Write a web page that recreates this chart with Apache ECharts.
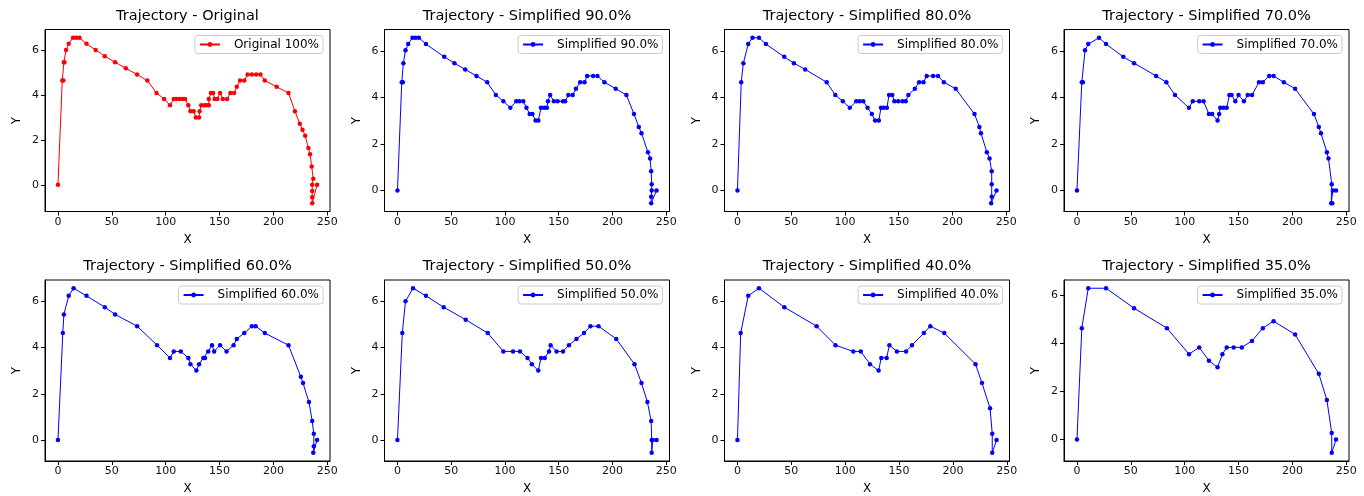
<!DOCTYPE html>
<html>
<head>
<meta charset="utf-8">
<script src="https://cdn.jsdelivr.net/npm/echarts@6/dist/echarts.min.js"></script>
<style>html,body{margin:0;padding:0;background:#fff;}#c{width:1364px;height:496px;}</style>
</head>
<body>
<div id="c"></div>
<script>
// ---- data ----
const titles = ['Trajectory - Original','Trajectory - Simplified 90.0%','Trajectory - Simplified 80.0%','Trajectory - Simplified 70.0%',
                'Trajectory - Simplified 60.0%','Trajectory - Simplified 50.0%','Trajectory - Simplified 40.0%','Trajectory - Simplified 35.0%'];
const seriesNames = ['Original 100%','Simplified 90.0%','Simplified 80.0%','Simplified 70.0%',
                     'Simplified 60.0%','Simplified 50.0%','Simplified 40.0%','Simplified 35.0%'];
const xTicks = [0, 50, 100, 150, 200, 250];
const yTicks = [0, 2, 4, 6];

const original = [[0,0],[4,4.65],[5,4.65],[5.5,5.47],[6,5.47],[7.5,6.02],[10,6.29],[14,6.56],[17,6.56],[20,6.56],
 [26.5,6.29],[35,6.02],[43.5,5.74],[53,5.47],[63,5.2],[73.5,4.92],[83,4.65],[91.5,4.1],[98.5,3.83],[104,3.55],
 [107.5,3.83],[110,3.83],[113,3.83],[116,3.83],[118,3.83],[121,3.55],[123,3.28],[126,3.28],[128,3.0],[131,3.0],
 [131.5,3.28],[133,3.55],[136,3.55],[138,3.55],[140,3.55],[140,3.83],[142,4.1],[144,4.1],[145.5,3.83],[148,3.83],
 [150.5,4.1],[153,3.83],[157,3.83],[160,4.1],[163.5,4.1],[166,4.37],[169,4.65],[173,4.65],[176,4.92],[180,4.92],
 [184,4.92],[188,4.92],[192,4.65],[203,4.37],[214,4.1],[220,3.28],[224.5,2.73],[227,2.46],[229.5,2.19],[232.5,1.64],
 [234,1.37],[235.5,0.82],[237,0.27],[236,0],[236,-0.27],[236,-0.55],[236,-0.82],[240.5,0]];

const simp90 = [[0,0],[4,4.65],[5,4.65],[5.5,5.47],[7.5,6.02],[10,6.29],[14,6.56],[17,6.56],[20,6.56],[26.5,6.29],
 [43.5,5.74],[53,5.47],[63,5.2],[73.5,4.92],[83.5,4.65],[91.5,4.1],[98.5,3.83],[105,3.55],[110.5,3.83],[113.5,3.83],
 [117,3.83],[120,3.55],[123,3.28],[125.5,3.28],[128.5,3.0],[131,3.0],[133.5,3.55],[136.5,3.55],[139,3.55],[140,3.83],
 [142,4.1],[145.5,3.83],[149,3.83],[154,3.83],[156,3.83],[159,4.1],[163,4.1],[166,4.37],[170,4.65],[174,4.65],
 [176.5,4.92],[182,4.92],[186,4.92],[192.5,4.65],[203,4.37],[213,4.1],[220,3.28],[224.5,2.73],[227,2.46],[233,1.64],
 [235,1.37],[236,0.82],[236.5,0.27],[236.5,0],[236,-0.27],[236,-0.55],[241,0]];

const simp80 = [[0,0],[3.5,4.65],[5.5,5.47],[10,6.29],[14,6.56],[20,6.56],[26.5,6.29],[43.5,5.74],[52.5,5.47],[63,5.2],
 [83,4.65],[91,4.1],[98,3.83],[104.5,3.55],[110.5,3.83],[113.5,3.83],[117,3.83],[121,3.55],[125,3.28],[128,3.0],
 [131.5,3.0],[133.5,3.55],[136,3.55],[139,3.55],[141,4.1],[144,4.1],[146,3.83],[149.5,3.83],[153.5,3.83],[156.5,3.83],
 [159,4.1],[165,4.37],[169,4.65],[173,4.65],[176,4.92],[182,4.92],[186.5,4.92],[192,4.65],[203,4.37],[220.5,3.28],
 [225,2.73],[226.5,2.46],[232,1.64],[234.5,1.37],[236.5,0.82],[236.5,0.27],[236.5,-0.27],[236,-0.55],[241,0]];

const simp70 = [[0,0],[4.5,4.65],[5.5,4.65],[7.5,6.02],[10.5,6.29],[20.5,6.56],[27,6.29],[43,5.74],[53,5.47],[73.5,4.92],
 [83,4.65],[91,4.1],[104,3.55],[107.5,3.83],[113.5,3.83],[117.5,3.83],[122.5,3.28],[125.5,3.28],[130.5,3.0],[132,3.28],
 [133,3.55],[136,3.55],[139,3.55],[141.5,4.1],[143.5,4.1],[147,3.83],[150,4.1],[155,3.83],[158.5,4.1],[162.5,4.1],
 [169,4.65],[172.5,4.65],[178.5,4.92],[182.5,4.92],[192,4.65],[202.5,4.37],[220,3.28],[224.5,2.73],[226.5,2.46],[232,1.64],
 [233.5,1.37],[236.5,0.27],[236,-0.55],[237,-0.55],[237.5,0],[240.5,0]];

const simp60 = [[0,0],[4.5,4.62],[5.5,5.43],[10,6.23],[14.5,6.56],[26.5,6.23],[43.5,5.74],[53,5.43],[73.5,4.92],[92,4.1],
 [104,3.55],[107.5,3.83],[114,3.83],[121,3.55],[123,3.28],[128.5,3.0],[131,3.28],[135,3.55],[136.5,3.55],[139.5,3.83],
 [143,4.1],[145,3.83],[150.5,4.1],[156.5,3.83],[163,4.1],[166,4.37],[173,4.62],[180,4.92],[183.5,4.92],[192,4.62],
 [214,4.1],[225.5,2.73],[227.5,2.46],[233,1.64],[236,0.82],[237.5,0.27],[237.5,-0.27],[237,-0.55],[240.5,0]];

const simp50 = [[0,0],[4.5,4.62],[7.5,6.0],[14.5,6.56],[26.5,6.23],[43,5.74],[63.5,5.2],[84,4.62],[98.5,3.83],[107.5,3.83],
 [114,3.83],[121,3.55],[125,3.28],[131,3.0],[133.5,3.55],[137,3.55],[141,3.83],[142.5,4.1],[148,3.83],[154,3.83],
 [159.5,4.1],[166.5,4.37],[173.5,4.62],[179.5,4.92],[187,4.92],[203.5,4.37],[220.5,3.28],[227,2.46],[232.5,1.64],[236,0.82],
 [236.5,0],[236.5,-0.55],[237.5,0],[241,0]];

const simp40 = [[0,0],[3,4.62],[10,6.23],[20,6.56],[43.5,5.74],[73.5,4.92],[91,4.1],[107.5,3.83],[114.5,3.83],[123,3.28],
 [131,3.0],[133.5,3.55],[138.5,3.55],[141,4.1],[148,3.83],[156.5,3.83],[162,4.1],[173,4.62],[179,4.92],[192,4.62],
 [221,3.28],[227,2.46],[234.5,1.37],[236.5,0.27],[236.5,-0.55],[240.5,0]];

const simp35 = [[0,0],[4.5,4.63],[10.5,6.29],[27,6.29],[53,5.46],[83.5,4.63],[104,3.55],[113.5,3.83],[122.5,3.28],[130.5,3.0],
 [135,3.55],[139,3.83],[145.5,3.83],[153,3.83],[162.5,4.1],[172.5,4.63],[182.5,4.92],[202.5,4.37],[224.5,2.73],[232,1.64],
 [236.5,0.27],[236.5,-0.55],[240.5,0]];

const datasets = [original, simp90, simp80, simp70, simp60, simp50, simp40, simp35];
const colors = ['#ff0000','#0000ff','#0000ff','#0000ff','#0000ff','#0000ff','#0000ff','#0000ff'];

// ---- layout ----
const FONT = 'DejaVu Sans';
const colLeft = [45, 384.5, 724.5, 1064];
const rowTop = [29.5, 280];
const titleY = [16, 266];
const gridW = 285, gridH = 182;

function pad(arr, idx) {
  const vals = arr.map(p => p[idx]);
  const mn = Math.min(...vals), mx = Math.max(...vals);
  const m = (mx - mn) * 0.05;
  return [mn - m, mx + m];
}

const grids = [], xAxes = [], yAxes = [], series = [], legends = [], graphics = [];
datasets.forEach((d, i) => {
  const r = Math.floor(i / 4), c = i % 4;
  const left = colLeft[c], top = rowTop[r];
  grids.push({left: left, top: top, width: gridW, height: gridH, show: true,
    borderColor: '#000', borderWidth: 1, backgroundColor: '#fff', containLabel: false});
  const xr = pad(d, 0), yr = pad(d, 1);
  xAxes.push({type: 'value', gridIndex: i, min: xr[0], max: xr[1],
    name: 'X', nameLocation: 'middle', nameGap: 22,
    nameTextStyle: {fontFamily: FONT, fontSize: 12, color: '#000'},
    axisLine: {show: true, onZero: false, lineStyle: {color: '#000', width: 1}},
    axisTick: {show: true, inside: false, length: 4, lineStyle: {color: '#000'}, customValues: xTicks},
    axisLabel: {fontFamily: FONT, fontSize: 11, color: '#111', margin: 5, customValues: xTicks},
    splitLine: {show: false}});
  yAxes.push({type: 'value', gridIndex: i, min: yr[0], max: yr[1],
    name: 'Y', nameLocation: 'middle', nameGap: 22, nameRotate: 90,
    nameTextStyle: {fontFamily: FONT, fontSize: 12, color: '#000'},
    axisLine: {show: true, onZero: false, lineStyle: {color: '#000', width: 1}},
    axisTick: {show: true, inside: false, length: 4, lineStyle: {color: '#000'}, customValues: yTicks},
    axisLabel: {fontFamily: FONT, fontSize: 11, color: '#111', margin: 6, customValues: yTicks},
    splitLine: {show: false}});
  series.push({type: 'line', name: seriesNames[i], xAxisIndex: i, yAxisIndex: i, data: d,
    symbol: 'circle', symbolSize: 4.5, showSymbol: true, animation: false,
    lineStyle: {color: colors[i], width: 1}, itemStyle: {color: colors[i]}});
  legends.push({data: [seriesNames[i]], right: 1364 - (left + gridW - 7), top: top + 6,
    orient: 'horizontal', itemWidth: 20, itemHeight: 6, padding: [3, 4, 3, 4],
    borderColor: '#cccccc', borderWidth: 1, borderRadius: 3, backgroundColor: 'rgba(255,255,255,0.8)',
    selectedMode: false,
    textStyle: {fontFamily: FONT, fontSize: 12, color: '#000', padding: [0, 0, 0, 9]}});
  graphics.push({type: 'text', x: left + gridW / 2, y: titleY[r],
    style: {text: titles[i], fontFamily: FONT, fontSize: 14.5, fill: '#000', textAlign: 'center', textVerticalAlign: 'middle'}});
});

const chart = echarts.init(document.getElementById('c'), null, {renderer: 'canvas'});
chart.setOption({
  animation: false,
  grid: grids, xAxis: xAxes, yAxis: yAxes, series: series, legend: legends,
  graphic: graphics
});
</script>
</body>
</html>
